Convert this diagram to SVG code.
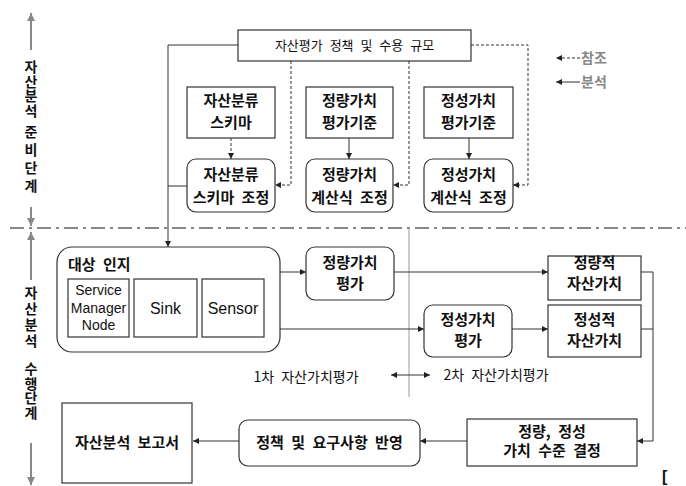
<svg xmlns="http://www.w3.org/2000/svg" width="686" height="486" viewBox="0 0 686 486">
<style>
.box{fill:#fff;stroke:#333;stroke-width:1.2}
.ln{fill:none;stroke:#333;stroke-width:1}
.dash{fill:none;stroke:#333;stroke-width:1;stroke-dasharray:3 2}
.ax{fill:none;stroke:#888;stroke-width:2}
.kt{font-family:"Noto Sans CJK KR","Noto Sans",sans-serif;font-size:15px;font-weight:bold;fill:#111;text-anchor:middle;word-spacing:4px}
.kn{font-family:"Noto Sans CJK KR","Noto Sans",sans-serif;font-size:13px;fill:#111;text-anchor:middle;word-spacing:4px}
.vt{font-family:"Noto Sans CJK KR","Noto Sans",sans-serif;font-size:14px;font-weight:bold;fill:#111;writing-mode:vertical-rl;text-anchor:start}
.en{font-family:"Liberation Sans",Arial,sans-serif;font-size:14px;fill:#111;text-anchor:middle}
.eb{font-family:"Liberation Sans",Arial,sans-serif;font-size:16px;fill:#111;text-anchor:middle}
.lg{font-family:"Noto Sans CJK KR","Noto Sans",sans-serif;font-size:14px;font-weight:bold;fill:#888}
</style>
<defs>
<marker id="ah" markerUnits="userSpaceOnUse" markerWidth="7" markerHeight="7" refX="6" refY="3" orient="auto"><path d="M0,0 L6,3 L0,6 z" fill="#222"/></marker>
<marker id="as" markerUnits="userSpaceOnUse" markerWidth="7" markerHeight="7" refX="0" refY="3" orient="auto"><path d="M6,0 L0,3 L6,6 z" fill="#222"/></marker>
<marker id="ag" markerUnits="userSpaceOnUse" markerWidth="9" markerHeight="9" refX="8" refY="4" orient="auto"><path d="M0,0 L8,4 L0,8 z" fill="#888"/></marker>
</defs>
<rect width="686" height="486" fill="#fff"/>

<!-- stage axis -->
<g id="axis">
<line class="ax" x1="31" y1="50" x2="31" y2="13" marker-end="url(#ag)"/>
<line class="ax" x1="31" y1="207" x2="31" y2="226" marker-end="url(#ag)"/>
<line class="ax" x1="31" y1="280" x2="31" y2="232" marker-end="url(#ag)"/>
<line class="ax" x1="31" y1="443" x2="31" y2="485" marker-end="url(#ag)"/>
<line x1="10" y1="228" x2="686" y2="228" stroke="#888" stroke-width="2" stroke-dasharray="14 5 3 5"/>
<line x1="409" y1="228" x2="409" y2="397" stroke="#999" stroke-width="1"/>
<text class="vt" x="31" y="60" style="letter-spacing:0.5px">자산분석</text>
<text class="vt" x="31" y="125" style="letter-spacing:4px">준비단계</text>
<text class="vt" x="31" y="286" style="letter-spacing:2px">자산분석</text>
<text class="vt" x="31" y="362" style="letter-spacing:0.5px">수행단계</text>
</g>

<!-- connectors -->
<g id="connectors">
<polyline class="ln" points="238,45 168,45 168,247" marker-end="url(#ah)"/>
<line class="ln" x1="168" y1="186" x2="187" y2="186"/>
<polyline class="dash" points="291,61 291,185 275,185" marker-end="url(#ah)"/>
<polyline class="dash" points="409,61 409,185 393,185" marker-end="url(#ah)"/>
<polyline class="dash" points="471,45 528,45 528,185 513,185" marker-end="url(#ah)"/>
<line class="dash" x1="231" y1="138" x2="231" y2="159" marker-end="url(#ah)"/>
<line class="ln" x1="349" y1="138" x2="349" y2="159" marker-end="url(#ah)"/>
<line class="ln" x1="469" y1="138" x2="469" y2="159" marker-end="url(#ah)"/>
<line class="ln" x1="280" y1="272" x2="306" y2="272" marker-end="url(#ah)"/>
<line class="ln" x1="280" y1="329" x2="424" y2="329" marker-end="url(#ah)"/>
<line class="ln" x1="394" y1="272" x2="548" y2="272" marker-end="url(#ah)"/>
<line class="ln" x1="512" y1="329" x2="548" y2="329" marker-end="url(#ah)"/>
<polyline class="ln" points="641,272 653,272 653,441 637,441" marker-end="url(#ah)"/>
<line class="ln" x1="641" y1="329" x2="653" y2="329"/>
<line class="ln" x1="467" y1="441" x2="420" y2="441" marker-end="url(#ah)"/>
<line class="ln" x1="239" y1="441" x2="193" y2="441" marker-end="url(#ah)"/>
<line class="ln" x1="391" y1="375" x2="430" y2="375" marker-start="url(#as)" marker-end="url(#ah)"/>
</g>

<!-- legend -->
<g id="legend">
<line class="dash" x1="580" y1="58" x2="556" y2="58" marker-end="url(#ah)"/>
<text class="lg" x="581" y="63">참조</text>
<line class="ln" x1="580" y1="82" x2="556" y2="82" marker-end="url(#ah)"/>
<text class="lg" x="581" y="87">분석</text>
</g>

<g id="policy"><rect class="box" x="238" y="30" width="233" height="31"/><text class="kn" x="354.5" y="50">자산평가 정책 및 수용 규모</text></g>

<g id="schema"><rect class="box" x="187" y="87" width="88" height="51"/><text class="kt" x="231" y="106">자산분류</text><text class="kt" x="231" y="128">스키마</text></g>
<g id="quant-criteria"><rect class="box" x="306" y="87" width="87" height="51"/><text class="kt" x="349.5" y="106">정량가치</text><text class="kt" x="349.5" y="128">평가기준</text></g>
<g id="qual-criteria"><rect class="box" x="424" y="87" width="89" height="51"/><text class="kt" x="468.5" y="106">정성가치</text><text class="kt" x="468.5" y="128">평가기준</text></g>

<g id="schema-adjust"><rect class="box" x="187" y="159" width="88" height="53" rx="9"/><text class="kt" x="231" y="180">자산분류</text><text class="kt" x="231" y="203">스키마 조정</text></g>
<g id="quant-adjust"><rect class="box" x="306" y="159" width="87" height="53" rx="9"/><text class="kt" x="349.5" y="180">정량가치</text><text class="kt" x="349.5" y="203">계산식 조정</text></g>
<g id="qual-adjust"><rect class="box" x="424" y="159" width="89" height="53" rx="9"/><text class="kt" x="468.5" y="180">정성가치</text><text class="kt" x="468.5" y="203">계산식 조정</text></g>

<g id="target"><rect class="box" x="57" y="247" width="223" height="105" rx="15"/>
<text class="kt" x="68" y="270" style="text-anchor:start">대상 인지</text>
<rect class="box" x="68" y="279" width="61" height="58"/>
<text class="en" x="98.5" y="295">Service</text><text class="en" x="98.5" y="313">Manager</text><text class="en" x="98.5" y="330">Node</text>
<rect class="box" x="134" y="279" width="63" height="58"/><text class="eb" x="165.5" y="314">Sink</text>
<rect class="box" x="202" y="279" width="62" height="58"/><text class="eb" x="233" y="314">Sensor</text>
</g>

<g id="quant-eval"><rect class="box" x="306" y="247" width="88" height="53" rx="9"/><text class="kt" x="350" y="268">정량가치</text><text class="kt" x="350" y="289">평가</text></g>
<g id="qual-eval"><rect class="box" x="424" y="305" width="88" height="52" rx="9"/><text class="kt" x="468" y="325">정성가치</text><text class="kt" x="468" y="346">평가</text></g>
<g id="quant-value"><rect class="box" x="548" y="256" width="93" height="44"/><text class="kt" x="594.5" y="268">정량적</text><text class="kt" x="594.5" y="289">자산가치</text></g>
<g id="qual-value"><rect class="box" x="548" y="305" width="93" height="52"/><text class="kt" x="594.5" y="325">정성적</text><text class="kt" x="594.5" y="346">자산가치</text></g>

<g id="phase-labels">
<text class="kn" x="306" y="382" style="font-size:14px">1차 자산가치평가</text>
<text class="kn" x="496" y="380" style="font-size:14px">2차 자산가치평가</text>
</g>

<g id="level"><rect class="box" x="467" y="419" width="170" height="47"/><text class="kt" x="552" y="437">정량, 정성</text><text class="kt" x="552" y="456">가치 수준 결정</text></g>
<g id="reflect"><rect class="box" x="239" y="420" width="181" height="46" rx="9"/><text class="kt" x="329.5" y="448">정책 및 요구사항 반영</text></g>
<g id="report"><rect class="box" x="62" y="403" width="130" height="80"/><text class="kt" x="127" y="448">자산분석 보고서</text></g>

<text x="662" y="482" font-family="Liberation Sans, Arial, sans-serif" font-size="16" font-weight="bold" fill="#111">[</text>
</svg>
